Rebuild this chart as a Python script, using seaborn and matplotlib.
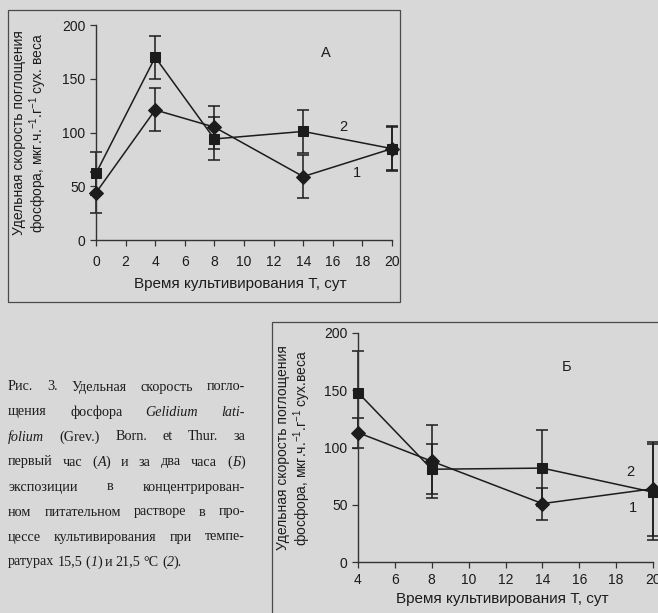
import numpy as np
import matplotlib
matplotlib.use('Agg')
import matplotlib.pyplot as plt
import matplotlib.transforms as mtransforms
from matplotlib.patches import Rectangle
import seaborn as sns

# --- data ---
days_a = [0, 4, 8, 14, 20]
rate_a_155 = [44, 121, 105, 59, 85]      # curve 1, diamonds
err_a_155 = [19, 20, 20, 20, 20]
rate_a_215 = [62, 170, 94, 101, 85]      # curve 2, squares
err_a_215 = [20, 20, 20, 20, 21]

days_b = [4, 8, 14, 20]
rate_b_155 = [113, 88, 51, 64]
err_b_155 = [13, 32, 14, 41]
rate_b_215 = [148, 81, 82, 61]
err_b_215 = [36, 22, 33, 42]

xticks_a = list(range(0, 21, 2))
xticks_b = list(range(4, 21, 2))
yticks = [0, 50, 100, 150, 200]

xlabel = 'Время культивирования Т, сут'
ylabel_a = 'Удельная скорость поглощения\nфосфора, мкг.ч.$^{-1}$.г$^{-1}$ сух. веса'
ylabel_b = 'Удельная скорость поглощения\nфосфора, мкг.ч.$^{-1}$.г$^{-1}$ сух.веса'

# '_' toggles italic inside a word
caption = [
    'Рис. 3. Удельная скорость погло-',
    'щения фосфора _Gelidium_ _lati-_',
    '_folium_ (Grev.) Born. et Thur. за',
    'первый час (_А_) и за два часа (_Б_)',
    'экспозиции в концентрирован-',
    'ном питательном растворе в про-',
    'цессе культивирования при темпе-',
    'ратурах 15,5 (_1_) и 21,5 °С (_2_).',
]

W, H = 658, 613
BG = '#d8d8d8'
INK = '#1c1c1c'

sns.set_style('ticks')
plt.rcParams['font.family'] = ['Liberation Sans', 'DejaVu Sans']
plt.rcParams['mathtext.fontset'] = 'custom'
plt.rcParams['mathtext.rm'] = 'Liberation Sans'
plt.rcParams['mathtext.it'] = 'Liberation Sans:italic'

fig = plt.figure(figsize=(W / 100, H / 100), dpi=100, facecolor=BG)


def px_axes(x0, y0, x1, y1):
    # pixel box (top-left origin) -> figure axes
    return fig.add_axes([x0 / W, (H - y1) / H, (x1 - x0) / W, (y1 - y0) / H])


def draw_panel(ax, days, r1, e1, r2, e2, xlim, xt, xpad, ylab, ylab_x, xlab_xy,
               letter, lab1, lab2):
    ax.set_facecolor('none')
    for r, e in [(r1, e1), (r2, e2)]:
        eb = ax.errorbar(days, r, yerr=e, fmt='none', ecolor=INK, elinewidth=1.1,
                         capsize=4, capthick=1.1, zorder=2)
        for art in eb.lines[1] + eb.lines[2]:
            art.set_clip_on(False)
    sns.lineplot(x=days, y=r2, ax=ax, color=INK, lw=1.1, marker='s',
                 markersize=6.5, markeredgecolor=INK, zorder=3, clip_on=False)
    sns.lineplot(x=days, y=r1, ax=ax, color=INK, lw=1.1, marker='D',
                 markersize=7, markeredgecolor=INK, zorder=3, clip_on=False)
    ax.set_xlim(*xlim)
    ax.set_ylim(0, 200)
    ax.set_xticks(xt)
    ax.set_yticks(yticks)
    sns.despine(ax=ax)
    for s in ['left', 'bottom']:
        ax.spines[s].set_color('#333333')
        ax.spines[s].set_linewidth(1.0)
    ax.tick_params(colors='#333333', labelcolor=INK, labelsize=10, length=4, width=0.9)
    ax.tick_params(axis='x', pad=xpad)
    ax.set_xlabel('')
    ax.set_ylabel('')
    ax.text(*xlab_xy, xlabel, transform=ax.transAxes, ha='center', va='center',
            fontsize=11, color=INK)
    ax.text(ylab_x, 0.5, ylab, transform=ax.transAxes, rotation=90, ha='center',
            va='center', fontsize=10, color=INK, multialignment='center',
            linespacing=1.1)
    ax.text(*letter, transform=ax.transData, fontsize=10.5, color=INK, ha='center', va='center')
    ax.text(*lab1, transform=ax.transData, fontsize=10.5, color=INK, ha='center', va='center')
    ax.text(*lab2, transform=ax.transData, fontsize=10.5, color=INK, ha='center', va='center')


# chart frames
fig.add_artist(Rectangle((8 / W, (H - 302) / H), (400 - 8) / W, (302 - 10) / H,
                         transform=fig.transFigure, fill=False, ec='#4a4a4a', lw=0.9))
fig.add_artist(Rectangle((272 / W, -0.05), 1.0, (H - 322) / H + 0.05,
                         transform=fig.transFigure, fill=False, ec='#4a4a4a', lw=0.9))

ax_a = px_axes(96, 25, 392, 240)
draw_panel(ax_a, days_a, rate_a_155, err_a_155, rate_a_215, err_a_215,
           (0, 20), xticks_a, 7, ylabel_a, -0.22, (0.486, -0.205), (15.5, 174, 'А'),
           (17.6, 62, '1'), (16.7, 105, '2'))

ax_b = px_axes(358, 333, 653, 562)
draw_panel(ax_b, days_b, rate_b_155, err_b_155, rate_b_215, err_b_215,
           (4, 20), xticks_b, 4, ylabel_b, -0.215, (0.49, -0.16), (15.3, 170, 'Б'),
           (18.9, 47, '1'), (18.75, 79, '2'))

# caption, justified like the printed page
fig.canvas.draw()
renderer = fig.canvas.get_renderer()
ident = mtransforms.IdentityTransform()
cap_x0, cap_x1 = 8, 245
cap_y = [387, 412, 437, 462, 487, 512, 537, 562]
cap_fs = 10.2
for i, line in enumerate(caption):
    words = []
    for w in line.split(' '):
        parts = w.split('_')
        words.append([(p, 'italic' if k % 2 else 'normal') for k, p in enumerate(parts) if p])
    arts = []
    widths = []
    for w in words:
        row = []
        ww = 0
        for txt, st in w:
            t = fig.text(0, 0, txt, transform=ident, fontsize=cap_fs, fontstyle=st,
                         family=['Liberation Serif', 'DejaVu Serif'], color=INK,
                         va='center', ha='left')
            wd = t.get_window_extent(renderer).width
            row.append((t, wd))
            ww += wd
        arts.append(row)
        widths.append(ww)
    last = i == len(caption) - 1
    if last or len(words) < 2:
        gap = cap_fs * 100 / 72 * 0.22
    else:
        gap = (cap_x1 - cap_x0 - sum(widths)) / (len(words) - 1)
    x = cap_x0
    ypx = H - cap_y[i]
    for row, ww in zip(arts, widths):
        xx = x
        for t, wd in row:
            t.set_position((xx, ypx))
            xx += wd
        x += ww + gap

fig.savefig('out.png', dpi=100, facecolor=BG)
